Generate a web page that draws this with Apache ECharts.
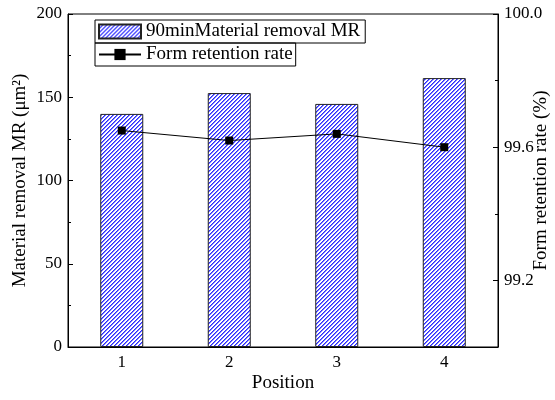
<!DOCTYPE html>
<html>
<head>
<meta charset="utf-8">
<script src="https://cdn.jsdelivr.net/npm/echarts@6/dist/echarts.min.js"></script>
<style>html,body{margin:0;padding:0;background:#fff;}#c{width:555px;height:400px;}</style>
</head>
<body>
<div id="c"></div>
<script>
var categories = ['1', '2', '3', '4'];
var removal = [140, 152.5, 146, 161.5];
var retention = [99.65, 99.62, 99.64, 99.60];
var leftTicks = [0, 50, 100, 150, 200];
var rightTickLabels = [99.2, 99.6, 100.0];
var rightMinorTicks = [99.4, 99.8];

var FONT = 'Liberation Serif';

function makePattern() {
  var c = document.createElement('canvas');
  c.width = 4; c.height = 4;
  var g = c.getContext('2d');
  g.fillStyle = '#ffffff';
  g.fillRect(0, 0, 4, 4);
  for (var i = 0; i < 4; i++) {
    g.fillStyle = '#2a2aff';
    g.fillRect(i, 3 - i, 1, 1);
    g.fillStyle = '#7a7aff';
    g.fillRect((i + 1) % 4, 3 - i, 1, 1);
  }
  return c;
}
var pattern = makePattern();

var chart = echarts.init(document.getElementById('c'));
var title = { color: '#000', fontFamily: FONT, fontSize: 19 };
var legTxt = { color: '#000', fontFamily: FONT, fontSize: 19, lineHeight: 19 };
chart.setOption({
  animation: false,
  backgroundColor: '#fff',
  textStyle: { fontFamily: FONT, color: '#000' },
  grid: { left: 68, right: 57, top: 14, bottom: 53, show: true, borderColor: '#000', borderWidth: 1,
    backgroundColor: 'transparent', outerBoundsMode: 'none', containLabel: false },
  legend: [
    {
      data: [{ name: '90minMaterial removal MR', icon: 'rect' }], left: 95, top: 20, orient: 'vertical',
      borderColor: '#000', borderWidth: 1, padding: [2, 5, 2, 3], itemWidth: 42, itemHeight: 14, itemGap: 4,
      textStyle: legTxt
    },
    {
      data: ['Form retention rate'], left: 95, top: 43, orient: 'vertical',
      borderColor: '#000', borderWidth: 1, padding: [2, 3, 2, 3], itemWidth: 42, itemHeight: 14, itemGap: 4,
      textStyle: legTxt
    }
  ],
  xAxis: [
    {
      type: 'category', data: categories, boundaryGap: true, position: 'bottom',
      name: 'Position', nameLocation: 'middle', nameGap: 27, nameMoveOverlap: false, nameTextStyle: title,
      axisLine: { lineStyle: { color: '#000', width: 1 } },
      axisTick: { inside: true, alignWithLabel: true, length: 5, lineStyle: { color: '#000' } },
      axisLabel: { color: '#000', fontFamily: FONT, fontSize: 17, margin: 7 },
      splitLine: { show: false }
    },
    {
      type: 'category', data: categories, boundaryGap: true, position: 'bottom',
      axisLine: { show: false },
      axisTick: { inside: true, alignWithLabel: false, length: 3, lineStyle: { color: '#000' } },
      axisLabel: { show: false }, splitLine: { show: false }
    },
    {
      type: 'category', data: categories, boundaryGap: true, position: 'top',
      axisLine: { show: false },
      axisTick: { inside: true, alignWithLabel: true, length: 3, lineStyle: { color: '#000' } },
      axisLabel: { show: false }, splitLine: { show: false }
    }
  ],
  yAxis: [
    {
      type: 'value', min: 0, max: 200, interval: 50, position: 'left',
      name: 'Material removal MR (μm²)', nameLocation: 'middle', nameGap: 38, nameMoveOverlap: false, nameTextStyle: title,
      axisLine: { show: true, lineStyle: { color: '#000', width: 1 } },
      axisTick: { show: true, inside: true, length: 5, lineStyle: { color: '#000' } },
      minorTick: { show: true, splitNumber: 2, length: 3, lineStyle: { color: '#000' } },
      axisLabel: { color: '#000', fontFamily: FONT, fontSize: 17, margin: 6 },
      splitLine: { show: false }
    },
    {
      type: 'value', min: 99.0, max: 100.0, position: 'right',
      name: 'Form retention rate (%)', nameLocation: 'middle', nameGap: 34, nameRotate: 90, nameMoveOverlap: false, nameTextStyle: title,
      axisLine: { show: true, lineStyle: { color: '#000', width: 1 } },
      axisTick: { show: true, inside: true, length: 5, customValues: rightTickLabels, lineStyle: { color: '#000' } },
      axisLabel: { color: '#000', fontFamily: FONT, fontSize: 17, margin: 6, customValues: rightTickLabels,
        formatter: function (v) { return Number(v).toFixed(1); } },
      splitLine: { show: false }
    },
    {
      type: 'value', min: 99.0, max: 100.0, position: 'right',
      axisLine: { show: false },
      axisTick: { show: true, inside: true, length: 3, customValues: rightMinorTicks, lineStyle: { color: '#000' } },
      axisLabel: { show: false, customValues: rightMinorTicks },
      splitLine: { show: false }
    }
  ],
  series: [
    {
      name: '90minMaterial removal MR', type: 'bar', xAxisIndex: 0, yAxisIndex: 0,
      data: removal, barWidth: 43,
      itemStyle: { color: { image: pattern, repeat: 'repeat' }, borderColor: '#222', borderWidth: 1 },
      z: 2
    },
    {
      name: 'Form retention rate', type: 'line', xAxisIndex: 0, yAxisIndex: 1,
      data: retention, symbol: 'rect', symbolSize: 8,
      lineStyle: { color: '#000', width: 1 },
      itemStyle: { color: '#000' },
      z: 3
    }
  ]
});
</script>
</body>
</html>
